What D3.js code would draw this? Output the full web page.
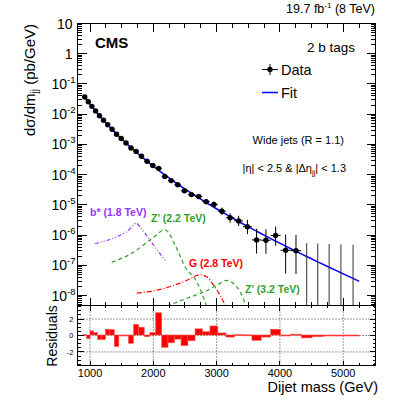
<!DOCTYPE html>
<html>
<head>
<meta charset="utf-8">
<script src="https://cdn.jsdelivr.net/npm/d3@7"></script>
<style>
  body { margin: 0; background: #fff; }
  svg { font-family: "Liberation Sans", Arial, Helvetica, sans-serif; }
</style>
</head>
<body>
<div id="chart"></div>
<script>
// dijet mass bin edges (GeV)
var binEdges = [890, 944, 1000, 1058, 1118, 1181, 1246, 1313, 1383, 1455, 1530, 1607, 1687, 1770,
  1856, 1945, 2037, 2132, 2231, 2332, 2438, 2546, 2659, 2775, 2895, 3019, 3147, 3279, 3416,
  3558, 3704, 3854, 4010, 4171, 4337, 4509, 4686, 4869, 5058, 5253];

// measured d(sigma)/dm per bin (pb/GeV), 0 = empty bin
var xsec = [0.0370, 0.02583, 0.01821, 0.01283, 0.00892, 0.00627, 0.00450, 0.00318, 0.002165,
  0.00157, 0.00111, 7.65e-4, 5.81e-4, 4.085e-4, 2.765e-4, 2.00e-4, 1.62e-4, 8.74e-5, 6.37e-5,
  4.65e-5, 2.92e-5, 2.19e-5, 1.905e-5, 1.28e-5, 1.04e-5, 6.21e-6, 3.76e-6, 2.96e-6, 1.90e-6,
  6.95e-7, 6.77e-7, 9.76e-7, 3.15e-7, 3.06e-7, 0, 0, 0, 0, 0];

// lower / upper error bars (pb/GeV)
var errDown = [1.9e-4, 1.5e-4, 1.3e-4, 1.0e-4, 8.5e-5, 7.0e-5, 5.9e-5, 4.8e-5, 3.9e-5,
  3.3e-5, 2.7e-5, 2.2e-5, 1.9e-5, 1.6e-5, 1.25e-5, 1.06e-5, 9.3e-6, 6.3e-6, 5.4e-6,
  4.7e-6, 3.7e-6, 3.1e-6, 2.9e-6, 2.3e-6, 2.1e-6, 1.6e-6, 1.2e-6, 9.6e-7, 8.2e-7,
  4.5e-7, 4.37e-7, 5.3e-7, 2.61e-7, 2.54e-7, 0, 0, 0, 0, 0];
var errUp = [1.9e-4, 1.5e-4, 1.3e-4, 1.0e-4, 8.5e-5, 7.0e-5, 5.9e-5, 4.8e-5, 3.9e-5,
  3.3e-5, 2.7e-5, 2.2e-5, 1.9e-5, 1.6e-5, 1.25e-5, 1.06e-5, 9.3e-6, 6.3e-6, 5.4e-6,
  5.0e-6, 4.0e-6, 3.4e-6, 3.2e-6, 2.6e-6, 2.4e-6, 1.9e-6, 1.5e-6, 1.4e-6, 1.29e-6,
  9.2e-7, 8.94e-7, 9.5e-7, 7.25e-7, 7.04e-7, 5.43e-7, 5.28e-7, 5.10e-7, 4.94e-7, 4.79e-7];

// (data - fit) / sigma per bin
var residuals = [0.05, -0.45, 0.5, 0.3, -0.55, -0.55, 0.7, 0.65, -1.4, 0, 0, -1.0, 1.3, 0.95,
  -0.2, 0.3, 2.7, -1.5, -0.95, -0.5, -1.3, -0.7, 0.75, 0.4, 1.1, 0.25, -0.25, 0.05, 0.02,
  -0.65, -0.25, 0.7, -0.1, 0.1, -0.35, -0.2, -0.1, -0.05, -0.05];

// fit curve read at bin centres
var fitMass = [890, 917, 972, 1029, 1088, 1150, 1214, 1280, 1348, 1419, 1493, 1569, 1647, 1729,
  1813, 1901, 1991, 2085, 2182, 2282, 2385, 2492, 2603, 2717, 2835, 2957, 3083, 3213, 3348,
  3487, 3631, 3779, 3932, 4091, 4254, 4423, 4598, 4778, 4964, 5156, 5253];
var fitValue = [0.0443, 0.0370, 0.0259, 0.01815, 0.0128, 0.00897, 0.00631, 0.00446, 0.00315,
  0.00222, 0.00157, 0.00111, 7.87e-4, 5.57e-4, 3.94e-4, 2.79e-4, 1.97e-4, 1.39e-4, 9.81e-5,
  6.93e-5, 4.89e-5, 3.44e-5, 2.42e-5, 1.70e-5, 1.19e-5, 8.35e-6, 5.83e-6, 4.07e-6, 2.82e-6,
  1.95e-6, 1.35e-6, 9.27e-7, 6.35e-7, 4.31e-7, 2.92e-7, 1.97e-7, 1.31e-7, 8.67e-8, 5.70e-8,
  3.69e-8, 2.97e-8];

// signal shapes
var bstarMass = [1079, 1343, 1501, 1606, 1686, 1728, 1791, 1871, 1950, 2029, 2108, 2187];
var bstarValue = [5.2e-7, 7.6e-7, 1.06e-6, 1.44e-6, 2.1e-6, 2.5e-6, 1.85e-6, 1.12e-6, 6.7e-7, 4.0e-7, 2.4e-7, 1.46e-7];
var zp22Mass = [1343, 1659, 1976, 2187, 2345, 2504, 2689, 2760, 2850];
var zp22Value = [1.28e-7, 2.5e-7, 7.6e-7, 1.5e-6, 4.6e-7, 8.7e-8, 2.8e-8, 1.3e-8, 4.0e-9];
var gMass = [1739, 2160, 2530, 2741, 2847, 2952, 3058, 3137];
var gValue = [1.2e-8, 1.7e-8, 3.2e-8, 4.9e-8, 4.1e-8, 2.2e-8, 1.0e-8, 4.7e-9];
var zp32Mass = [2214, 2583, 2794, 3005, 3163, 3268, 3374, 3453];
var zp32Value = [4.5e-9, 8.9e-9, 1.3e-8, 2.2e-8, 3.2e-8, 2.5e-8, 1.3e-8, 5.4e-9];

// ticks
var xTicks = [1000, 2000, 3000, 4000, 5000];
var yExponents = [-8, -7, -6, -5, -4, -3, -2, -1, 0, 1];
var residTicks = [-2, 0, 2];

var width = 399, height = 404;
// pad edges (main pad on top, residual pad below)
var pad = {left: 77.5, right: 375.5, top: 23.5, mid: 305.5, bottom: 365.5};

var svg = d3.select("#chart")
  .append("svg")
  .attr("width", width)
  .attr("height", height);

var x = d3.scaleLinear().domain([802, 5510]).range([pad.left, pad.right]);
var y = d3.scaleLog().domain([4.7e-9, 10]).range([pad.mid, pad.top]);
var yr = d3.scaleLinear().domain([-3.65, 3.65]).range([pad.bottom, pad.mid]);

svg.append("clipPath").attr("id", "clipMain")
  .append("rect")
    .attr("x", pad.left).attr("y", pad.top)
    .attr("width", pad.right - pad.left).attr("height", pad.mid - pad.top);

var bins = xsec.map(function(v, i) {
  return {lo: binEdges[i], hi: binEdges[i + 1], v: v, dn: errDown[i], up: errUp[i], r: residuals[i]};
});

// ---------- residual panel ----------
var grid = svg.append("g")
  .attr("stroke", "#000")
  .attr("stroke-width", 0.8)
  .attr("stroke-dasharray", "1,2");
xTicks.forEach(function(t) {
  grid.append("line").attr("x1", x(t)).attr("x2", x(t)).attr("y1", pad.mid).attr("y2", pad.bottom);
});
residTicks.forEach(function(t) {
  grid.append("line").attr("x1", pad.left).attr("x2", pad.right).attr("y1", yr(t)).attr("y2", yr(t));
});

svg.append("g")
  .selectAll("rect")
  .data(bins)
  .enter()
  .append("rect")
    .attr("x", function(d) { return x(d.lo); })
    .attr("width", function(d) { return x(d.hi) - x(d.lo); })
    .attr("y", function(d) { return Math.min(yr(d.r), yr(0)) - 0.5; })
    .attr("height", function(d) { return Math.max(Math.abs(yr(d.r) - yr(0)), 1); })
    .style("fill", "#ff0000")
    .style("stroke", "#ff5555")
    .style("stroke-width", 0.6);

// ---------- main panel ----------
var plot = svg.append("g").attr("clip-path", "url(#clipMain)");

var sigLine = d3.line()
  .x(function(d) { return x(d[0]); })
  .y(function(d) { return y(d[1]); })
  .curve(d3.curveMonotoneX);

function signal(mass, value, color, dash) {
  plot.append("path")
    .datum(d3.zip(mass, value))
    .attr("d", sigLine)
    .style("fill", "none")
    .style("stroke", color)
    .style("stroke-width", 1.2)
    .style("stroke-dasharray", dash);
}
signal(bstarMass, bstarValue, "#9a33ff", "4,2,1,2,1,2");
signal(zp22Mass, zp22Value, "#33a02c", "4,3");
signal(gMass, gValue, "#ff0000", "5,2,1,2");
signal(zp32Mass, zp32Value, "#33a02c", "4,3");

// fit
plot.append("path")
  .datum(d3.zip(fitMass, fitValue))
  .attr("d", sigLine)
  .style("fill", "none")
  .style("stroke", "#0000ff")
  .style("stroke-width", 1.5);

// data error bars
var errs = plot.append("g").attr("stroke", "#000").attr("stroke-width", 1);
bins.forEach(function(d) {
  var cx = x((d.lo + d.hi) / 2);
  if (d.v > 0) {
    errs.append("line").attr("x1", x(d.lo)).attr("x2", x(d.hi)).attr("y1", y(d.v)).attr("y2", y(d.v));
    errs.append("line").attr("x1", cx).attr("x2", cx)
      .attr("y1", y(Math.max(d.v - d.dn, 1e-12))).attr("y2", y(d.v + d.up));
  } else {
    errs.append("line").attr("x1", cx).attr("x2", cx).attr("y1", pad.mid).attr("y2", y(d.up))
      .attr("stroke", "#333");
  }
});

plot.append("g")
  .selectAll("circle")
  .data(bins.filter(function(d) { return d.v > 0; }))
  .enter()
  .append("circle")
    .attr("cx", function(d) { return x((d.lo + d.hi) / 2); })
    .attr("cy", function(d) { return y(d.v); })
    .attr("r", 2.7)
    .style("fill", "#000");

// ---------- frames and ticks ----------
var ax = svg.append("g")
  .attr("stroke", "#000")
  .attr("stroke-width", 1)
  .attr("shape-rendering", "crispEdges");

ax.append("rect").attr("x", pad.left).attr("y", pad.top)
  .attr("width", pad.right - pad.left).attr("height", pad.mid - pad.top).attr("fill", "none");
ax.append("rect").attr("x", pad.left).attr("y", pad.mid)
  .attr("width", pad.right - pad.left).attr("height", pad.bottom - pad.mid).attr("fill", "none");

function hTick(yy, len) {
  ax.append("line").attr("x1", pad.left).attr("x2", pad.left + len).attr("y1", yy).attr("y2", yy);
  ax.append("line").attr("x1", pad.right - len).attr("x2", pad.right).attr("y1", yy).attr("y2", yy);
}
function vTick(xx, y0, y1, len) {
  ax.append("line").attr("x1", xx).attr("x2", xx).attr("y1", y0).attr("y2", y0 + len);
  ax.append("line").attr("x1", xx).attr("x2", xx).attr("y1", y1 - len).attr("y2", y1);
}

// main y log ticks
yExponents.forEach(function(e) {
  hTick(y(Math.pow(10, e)), 9);
});
d3.range(-9, 1).forEach(function(e) {
  d3.range(2, 10).forEach(function(k) {
    var v = k * Math.pow(10, e);
    if (v > y.domain()[0] && v < y.domain()[1]) hTick(y(v), 4.5);
  });
});

// x ticks on both panels
d3.range(1000, 5501, 250).forEach(function(t) {
  var major = xTicks.indexOf(t) >= 0;
  vTick(x(t), pad.top, pad.mid, major ? 8 : 4);
  vTick(x(t), pad.mid, pad.bottom, major ? 5 : 2.5);
});

// residual y ticks
d3.range(-3.5, 3.6, 0.5).forEach(function(t) {
  hTick(yr(t), residTicks.indexOf(t) >= 0 ? 6 : 3);
});

// ---------- labels ----------
var yLab = svg.append("g").style("font-size", "14px").attr("text-anchor", "end");
yExponents.forEach(function(e) {
  var t = yLab.append("text").attr("y", y(Math.pow(10, e)) + 5);
  if (e == 1) {
    t.attr("x", 72.5).text("10");
  } else if (e == 0) {
    t.attr("x", 72.5).text("1");
  } else {
    t.attr("x", 75.5).text("10");
    t.append("tspan").attr("dy", -6).style("font-size", "9.5px").text(e);
  }
});

svg.append("g")
  .style("font-size", "7.5px")
  .attr("text-anchor", "end")
  .selectAll("text")
  .data(residTicks)
  .enter()
  .append("text")
    .attr("x", 73.5)
    .attr("y", function(d) { return yr(d) + 2.7; })
    .text(function(d) { return d; });

svg.append("g")
  .style("font-size", "11px")
  .attr("text-anchor", "middle")
  .selectAll("text")
  .data(xTicks)
  .enter()
  .append("text")
    .attr("x", function(d) { return x(d); })
    .attr("y", 377)
    .text(function(d) { return d; });

// axis titles
svg.append("text")
  .attr("x", 378)
  .attr("y", 392)
  .attr("text-anchor", "end")
  .style("font-size", "14.5px")
  .text("Dijet mass (GeV)");

var yTitle = svg.append("text")
  .attr("transform", "translate(35,24) rotate(-90)")
  .attr("text-anchor", "end")
  .style("font-size", "15px")
  .text("dσ/dm");
yTitle.append("tspan").attr("dy", 3).style("font-size", "10px").text("jj");
yTitle.append("tspan").attr("dy", -3).text(" (pb/GeV)");

svg.append("text")
  .attr("transform", "translate(57,336) rotate(-90)")
  .attr("text-anchor", "middle")
  .style("font-size", "14px")
  .text("Residuals");

// header texts
svg.append("text").attr("x", 95).attr("y", 47.5)
  .style("font-size", "15px").style("font-weight", "bold").text("CMS");

var lumi = svg.append("text").attr("x", 375).attr("y", 13).attr("text-anchor", "end")
  .style("font-size", "12.5px").text("19.7 fb");
lumi.append("tspan").attr("dy", -5).style("font-size", "8px").text("-1");
lumi.append("tspan").attr("dy", 5).text(" (8 TeV)");

svg.append("text").attr("x", 355).attr("y", 52).attr("text-anchor", "end")
  .style("font-size", "13.5px").text("2 b tags");

// legend
var leg = svg.append("g");
leg.append("line").attr("x1", 262).attr("x2", 278).attr("y1", 69.5).attr("y2", 69.5).attr("stroke", "#000");
leg.append("line").attr("x1", 270).attr("x2", 270).attr("y1", 64).attr("y2", 75).attr("stroke", "#000");
leg.append("circle").attr("cx", 270).attr("cy", 69.5).attr("r", 2.7).attr("fill", "#000");
leg.append("text").attr("x", 281).attr("y", 74.5).style("font-size", "14.5px").text("Data");
leg.append("line").attr("x1", 262).attr("x2", 278).attr("y1", 92.5).attr("y2", 92.5)
  .attr("stroke", "#0000ff").attr("stroke-width", 1.5);
leg.append("text").attr("x", 281).attr("y", 97.5).style("font-size", "14.5px").text("Fit");

svg.append("text").attr("x", 344).attr("y", 144).attr("text-anchor", "end")
  .style("font-size", "11px").text("Wide jets (R = 1.1)");

var eta = svg.append("text").attr("x", 346).attr("y", 172).attr("text-anchor", "end")
  .style("font-size", "11px").text("|η| < 2.5 & |Δη");
eta.append("tspan").attr("dy", 3).style("font-size", "7.5px").text("jj");
eta.append("tspan").attr("dy", -3).text("| < 1.3");

// signal labels
var sig = svg.append("g").style("font-size", "10.5px").style("font-weight", "bold");
sig.append("text").attr("x", 90).attr("y", 216).attr("fill", "#9a33ff").text("b* (1.8 TeV)");
sig.append("text").attr("x", 151).attr("y", 222).attr("fill", "#33a02c").text("Z' (2.2 TeV)");
sig.append("text").attr("x", 189).attr("y", 267).attr("fill", "#ff0000").text("G (2.8 TeV)");
sig.append("text").attr("x", 245).attr("y", 293).attr("fill", "#33a02c").text("Z' (3.2 TeV)");
</script>
</body>
</html>
